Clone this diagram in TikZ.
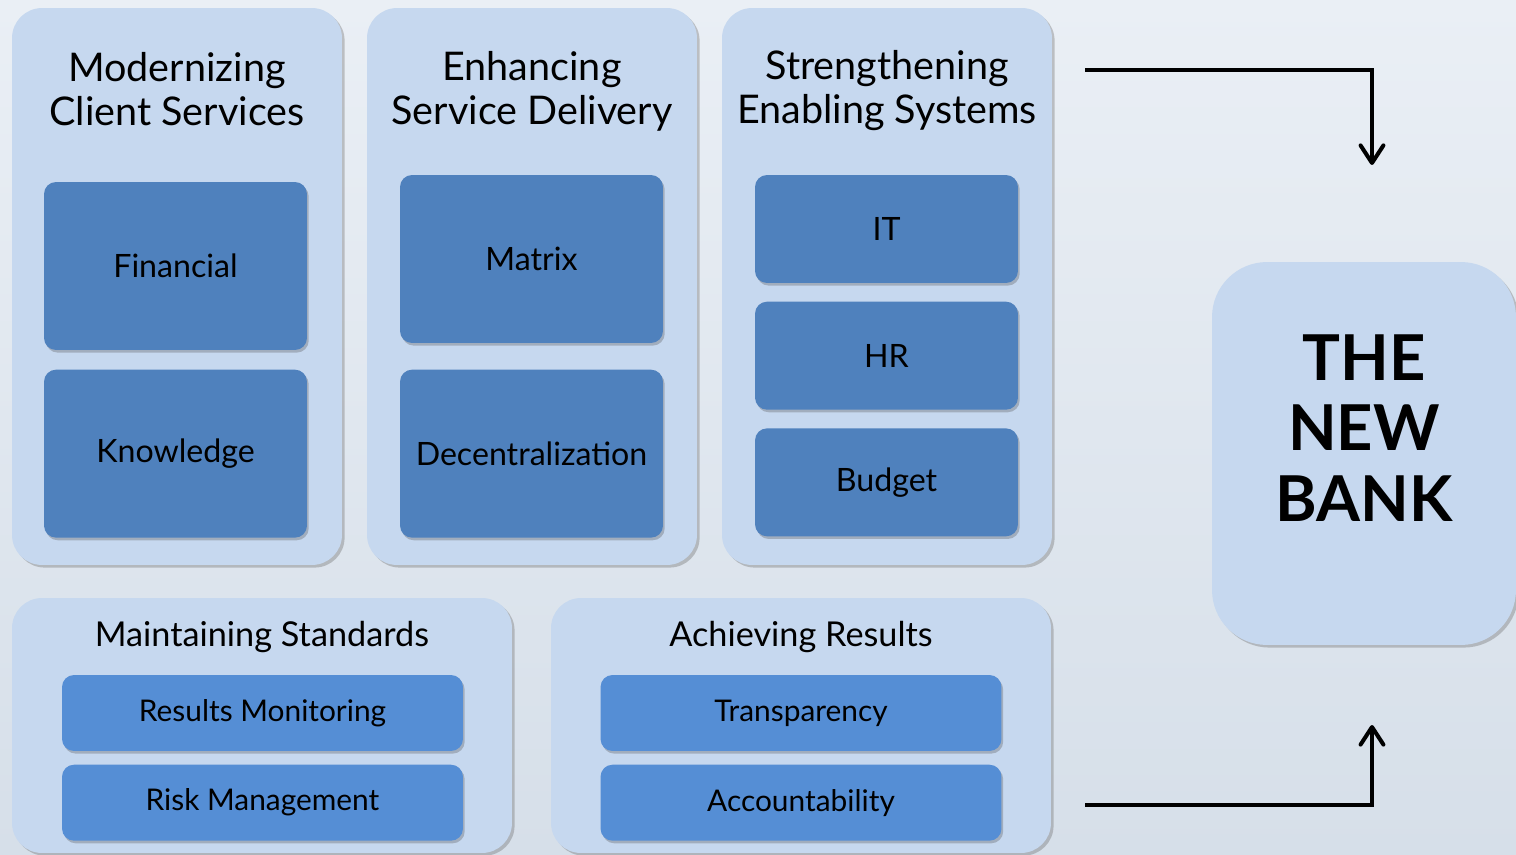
\documentclass[tikz,border=0pt]{standalone}
\usepackage{fontspec}
\setmainfont{Lato}
\usepackage{tikz}
\usetikzlibrary{positioning,arrows.meta,shadows}

\definecolor{panelblue}{RGB}{198,216,239}
\definecolor{boxblue}{RGB}{79,129,189}
\definecolor{barblue}{RGB}{85,142,213}
\definecolor{bgtop}{RGB}{234,239,245}
\definecolor{bgbottom}{RGB}{214,223,233}

\tikzset{
    panel/.style={fill=panelblue, rounded corners=0.6cm, minimum width=6.6cm, minimum height=11.14cm,
        drop shadow={shadow xshift=1.5pt, shadow yshift=-1.5pt, opacity=0.35, fill=black!60}},
    widepanel/.style={panel, minimum width=10cm, minimum height=5.1cm},
    title/.style={align=center, font=\fontsize{22.5}{25}\selectfont},
    lowtitle/.style={title, font=\fontsize{19.5}{22}\selectfont},
    item/.style={fill=boxblue, rounded corners=0.24cm, minimum width=5.26cm, minimum height=3.36cm,
        font=\fontsize{18.3}{21}\selectfont,
        drop shadow={shadow xshift=1pt, shadow yshift=-1.5pt, opacity=0.3, fill=black!70}},
    smallitem/.style={item, minimum height=2.16cm},
    bar/.style={item, fill=barblue, minimum width=8.02cm, minimum height=1.52cm, font=\fontsize{17}{20}\selectfont},
    flow/.style={line width=2.3pt, -{Straight Barb[length=10pt, width=13pt, line width=2.3pt, round]}}
}

\begin{document}
\begin{tikzpicture}[x=0.02cm, y=-0.02cm]
    % background
    \path[use as bounding box, top color=bgtop, middle color=white, bottom color=bgbottom] (0,0) rectangle (1516,855);

    % upper panels
    \node [panel] (modern) at (177,286.5) {};
    \node [panel] (enhance) at (532,286.5) {};
    \node [panel] (strength) at (887,286.5) {};

    \node [title] (modern_title) at (177,89) {Modernizing\\Client Services};
    \node [title] (enhance_title) at (532,91) {Enhancing\\Service Delivery};
    \node [title] (strength_title) at (887,91) {Strengthening\\Enabling Systems};

    \node [item] (financial) at (175.5,266) {Financial};
    \node [item, below=0.38cm of financial] (knowledge) {Knowledge};

    \node [item] (matrix) at (531.5,259) {Matrix};
    \node [item, below=0.52cm of matrix] (decentral) {Decentralization};

    \node [smallitem] (it) at (886.5,229) {IT};
    \node [smallitem, below=0.36cm of it] (hr) {HR};
    \node [smallitem, below=0.36cm of hr] (budget) {Budget};

    % lower panels
    \node [widepanel] (standards) at (262,725.5) {};
    \node [widepanel] (results) at (801,725.5) {};

    \node [lowtitle] (standards_title) at (262,637) {Maintaining Standards};
    \node [lowtitle] (results_title) at (801,637) {Achieving Results};

    \node [bar] (monitoring) at (262.5,713) {Results Monitoring};
    \node [bar, below=0.26cm of monitoring] (risk) {Risk Management};
    \node [bar] (transparency) at (801,713) {Transparency};
    \node [bar, below=0.26cm of transparency] (account) {Accountability};

    % the new bank
    \node [panel, rounded corners=1.1cm, minimum width=6.08cm, minimum height=7.66cm] (bank) at (1364,453.5) {};
    \node [align=center, font=\bfseries\fontsize{36}{40}\selectfont] (bank_label) at (1364,428) {THE\\NEW\\BANK};

    \coordinate (top_start) at (1085,70);
    \coordinate (top_end) at (1372,165);
    \coordinate (bottom_start) at (1085,805);
    \coordinate (bottom_end) at (1372,725);

    \draw[flow] (top_start) -| (top_end);
    \draw[flow] (bottom_start) -| (bottom_end);
\end{tikzpicture}
\end{document}
